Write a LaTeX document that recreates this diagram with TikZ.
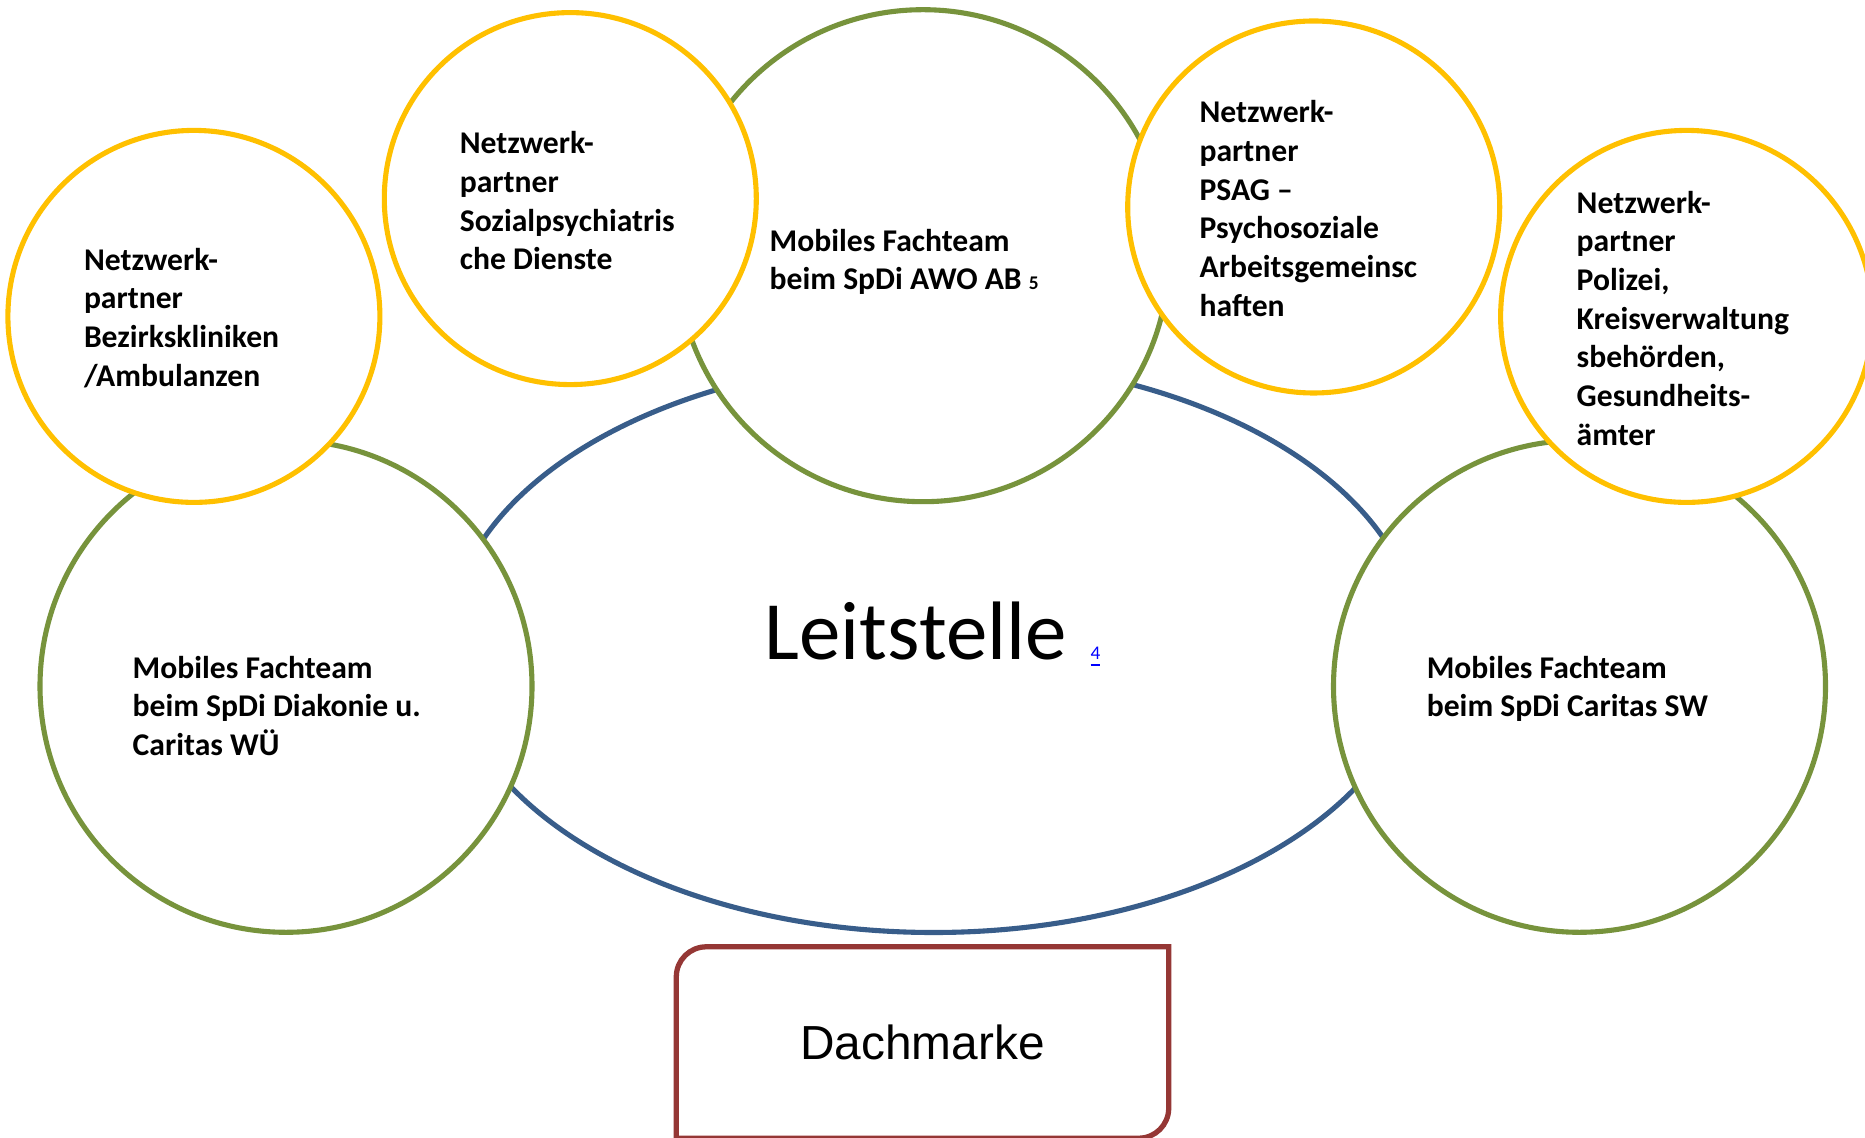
\documentclass[tikz,border=0pt]{standalone}
\usepackage{fontspec}
\setmainfont{Carlito}
\newfontfamily\arialfont{Liberation Sans}
\usetikzlibrary{calc,shapes.geometric}
\tikzset{
  ring/.style={
    circle,
    line width=1.45pt,
    fill=white,
    inner sep=0pt
  },
  ring-team/.style={
    ring,
    draw=teamgreen,
    minimum size=4.92cm
  },
  ring-partner/.style={
    ring,
    draw=partneryellow,
    minimum size=3.72cm
  },
  hub-ellipse/.style={ellipse, line width=1.45pt, draw=hubblue, fill=white, minimum width=9.706cm, minimum height=5.73cm, inner sep=0pt},
  ring-text/.style={font=\ringfont, align=left, anchor=north west, inner sep=0pt},
  dach-box/.style={minimum width=4.91cm, minimum height=1.90cm, inner sep=0pt, font=\arialfont\fontsize{13.6}{16}\selectfont},
  dach-frame/.style={draw=dachred, line width=1.5pt}
}
\definecolor{teamgreen}{RGB}{119,147,60}
\definecolor{partneryellow}{RGB}{255,192,0}
\definecolor{hubblue}{RGB}{56,93,138}
\definecolor{dachred}{RGB}{149,55,53}
\newcommand{\ringfont}{\bfseries\fontsize{9}{11}\selectfont}
\newcommand{\smallmark}[1]{{\fontsize{5.5}{6}\selectfont #1}}

\begin{document}
\begin{tikzpicture}
  \useasboundingbox (0,0) rectangle (18.65,-11.38);

  % Leitstelle
  \node[hub-ellipse] (leitstelle) at (9.337,-6.46) {};
  % Mobile Fachteams (green)
  \node[ring-team] (diakonie) at (2.86,-6.863) {};
  \node[ring-team] (caritas) at (15.795,-6.863) {};
  \node[ring-team] (awo) at (9.23,-2.557) {};
  % Netzwerkpartner (yellow)
  \node[ring-partner] (bezirk) at (1.939,-3.164) {};
  \node[ring-partner] (sozial) at (5.703,-1.986) {};
  \node[ring-partner] (psag) at (13.137,-2.07) {};
  \node[ring-partner] (polizei) at (16.866,-3.164) {};

  % Texts
  \node[ring-text] (bezirk-text) at (0.833,-2.474) {Netzwerk-\\partner\\Bezirkskliniken\\/Ambulanzen};
  \node[ring-text] (sozial-text) at (4.591,-1.308) {Netzwerk-\\partner\\Sozialpsychiatris\\che Dienste};
  \node[ring-text] (awo-text) at (7.69,-2.283) {Mobiles Fachteam\\beim SpDi AWO AB \smallmark{5}};
  \node[ring-text] (psag-text) at (11.989,-0.999) {Netzwerk-\\partner\\PSAG –\\Psychosoziale\\Arbeitsgemeinsc\\haften};
  \node[ring-text] (polizei-text) at (15.76,-1.903) {Netzwerk-\\partner\\Polizei,\\Kreisverwaltung\\sbehörden,\\Gesundheits-\\ämter};
  \node[ring-text] (diakonie-text) at (1.32,-6.554) {Mobiles Fachteam\\beim SpDi Diakonie u.\\Caritas WÜ};
  \node[ring-text] (caritas-text) at (14.261,-6.554) {Mobiles Fachteam\\beim SpDi Caritas SW};
  \node[anchor=base west, inner sep=0pt, font=\fontsize{23.6}{28}\selectfont] (leitstelle-text) at (7.64,-6.60)
    {Leitstelle\hspace{6.8pt}\textcolor{blue}{\underline{\smallmark{4}}}};

  % Dachmarke
  \node[dach-box] (dachmarke) at (9.225,-10.425) {Dachmarke};
  \draw[dach-frame] (dachmarke.south west)
    -- ($(dachmarke.north west)+(0,-0.3)$) arc[start angle=180, end angle=90, radius=0.3]
    -- (dachmarke.north east)
    -- ($(dachmarke.south east)+(0,0.3)$) arc[start angle=0, end angle=-90, radius=0.3]
    -- cycle;
\end{tikzpicture}
\end{document}
